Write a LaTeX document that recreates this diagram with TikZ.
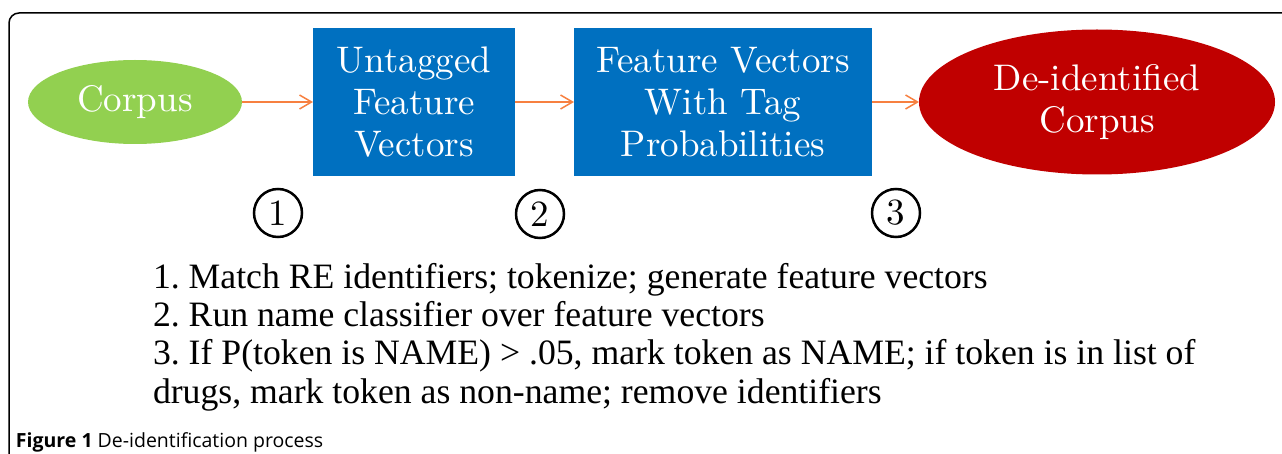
\documentclass[tikz,border=0pt]{standalone}
\usepackage{fontspec}
\usepackage{tikz}
\usetikzlibrary{positioning, shapes.geometric, arrows.meta}
\newfontfamily\boxfont{lmroman10-regular.otf}
\newfontfamily\stepsfont{Liberation Serif}
\newfontfamily\captionfont{Open Sans}
\definecolor{corpusgreen}{RGB}{146,208,80}
\definecolor{vecblue}{RGB}{0,112,192}
\definecolor{deidred}{RGB}{192,0,0}
\definecolor{arroworange}{RGB}{247,128,64}
\frenchspacing

\begin{document}
\begin{tikzpicture}[x=1pt, y=-1pt,
  every node/.style={inner sep=0pt, outer sep=0pt},
  blob/.style={ellipse, text=white, font=\boxfont\fontsize{37}{42}\selectfont, align=center},
  vecbox/.style={rectangle, fill=vecblue, text=white, font=\boxfont\fontsize{37}{42}\selectfont, align=center, minimum height=148pt},
  stepmark/.style={circle, draw=black, line width=2.5pt, minimum size=48pt, font=\boxfont\fontsize{37}{37}\selectfont},
  flow/.style={->, draw=arroworange, line width=1.5pt},
  >={Straight Barb[length=12pt, width=14pt]}]
  \useasboundingbox (0,0) rectangle (1282,454);
  \draw[line width=1.5pt, rounded corners=10pt] (9,454) -- (9,13) -- (1282,13);
  \node[blob, fill=corpusgreen, minimum width=214pt, minimum height=84pt] (corpus) at (135,102) {Corpus};
  \node[vecbox, minimum width=202pt] (untagged) [right=71pt of corpus] {Untagged\\Feature\\Vectors};
  \node[vecbox, minimum width=298pt] (tagprob) [right=59pt of untagged] {Feature Vectors\\With Tag\\Probabilities};
  \node[blob, fill=deidred, minimum width=356pt, minimum height=145pt] (deid) [right=47pt of tagprob] {De-identified\\Corpus};
  \draw[flow] (corpus) -- (untagged);
  \draw[flow] (untagged) -- (tagprob);
  \draw[flow] (tagprob) -- (deid);
  \node[stepmark] (mark1) at (278,213) {1};
  \node[stepmark] (mark2) at (540,214) {2};
  \node[stepmark] (mark3) at (896,213) {3};
  \node[font=\stepsfont\fontsize{35.7}{38.4}\selectfont, align=left, anchor=north west] (steps) at (153,263) {1. Match RE identifiers; tokenize; generate feature vectors\\2. Run name classifier over feature vectors\\3. If P(token is NAME) > .05, mark token as NAME; if token is in list of\\drugs, mark token as non-name; remove identifiers};
  \node[font=\captionfont\fontsize{19.5}{24}\selectfont, anchor=base west] (caption) at (16,447) {\textbf{Figure 1} De-identification process};
\end{tikzpicture}
\end{document}
